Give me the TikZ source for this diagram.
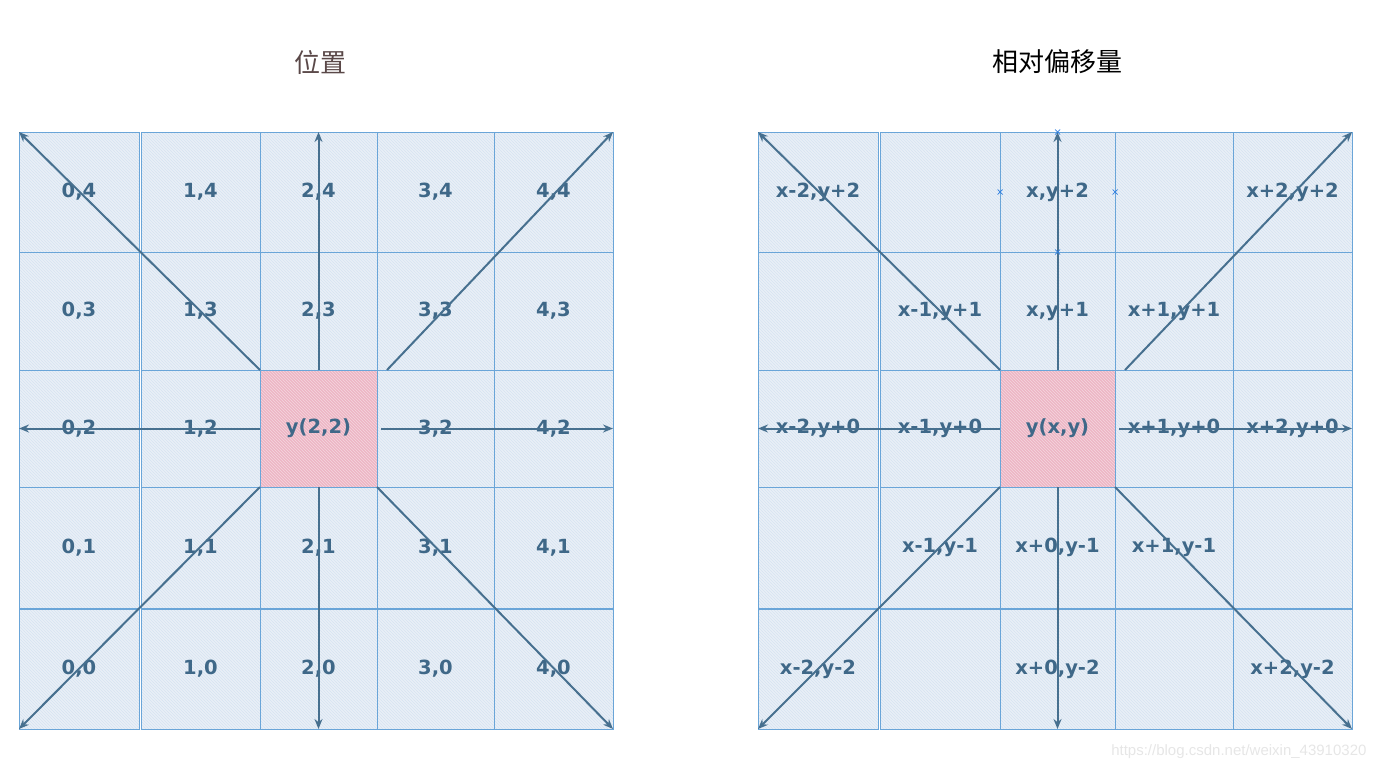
\documentclass[tikz,border=0pt]{standalone}
\usepackage{fontspec}
\setmainfont{Liberation Sans}
\newfontfamily\lblfont{DejaVu Sans}
\newfontfamily\cjk{Noto Sans CJK SC}
\usetikzlibrary{positioning,arrows.meta,patterns}
\definecolor{cellfill}{HTML}{E9EFF7}
\definecolor{cellhatch}{HTML}{D6E3F1}
\definecolor{cellline}{HTML}{6AA5D8}
\definecolor{midfill}{HTML}{EDB6C4}
\definecolor{midhatch}{HTML}{F5D6E0}
\definecolor{arrowc}{HTML}{47708F}
\definecolor{labelc}{HTML}{3F6888}
\definecolor{titlec}{HTML}{5A4848}
\definecolor{markc}{HTML}{2F7FE0}
\definecolor{wmc}{HTML}{E6E6E6}

\begin{document}
\begin{tikzpicture}[x=1pt,y=-1pt,
		cell/.style={draw=cellline,line width=1pt,preaction={fill=cellfill},pattern=north west lines,pattern color=cellhatch,
			inner sep=0pt,outer sep=0pt,text=labelc,font=\lblfont\fontsize{19.5}{23}\selectfont\bfseries},
		midcell/.style={cell,preaction={fill=midfill},pattern color=midhatch},
		lbl/.style={text=labelc,font=\lblfont\fontsize{19.5}{23}\selectfont\bfseries},
		arr/.style={draw=arrowc,line width=2pt,-{Stealth[length=10pt,width=8pt]}},
		handle/.style={draw=markc,line width=0.7pt},
		title/.style={font=\cjk\fontsize{26}{30}\selectfont}]
	\useasboundingbox (0,0) rectangle (1379,772);
	\node[title,text=titlec] (tpos) at (320,62)  {位置};
	\node[title]             (toff) at (1057,62) {相对偏移量};
	
	\foreach \c/\xa/\xb in {0/19/139,1/141/260,2/260/377,3/377/494,4/494/613}
		\foreach \r/\ya/\yb in {4/132/252,3/252/370,2/370/487,1/487/608,0/609/729}
			\node[cell,minimum width={(\xb-\xa)*1pt},minimum height={(\yb-\ya)*1pt}] (L\c\r) at ({(\xa+\xb)/2},{(\ya+\yb)/2}) {\ifnum\c\r=22\relax\else\c,\r\fi};
	\node[midcell,minimum width=117pt,minimum height=117pt] (L22) at (318.5,428.5) {y(2,2)};
	
	\foreach \c/\xa/\xb in {0/758/878,1/880/1000,2/1000/1115,3/1115/1233,4/1233/1352}
		\foreach \r/\ya/\yb in {4/132/252,3/252/370,2/370/487,1/487/608,0/609/729}
			\node[cell,minimum width={(\xb-\xa)*1pt},minimum height={(\yb-\ya)*1pt}] (R\c\r) at ({(\xa+\xb)/2},{(\ya+\yb)/2}) {};
	\node[midcell,minimum width=115pt,minimum height=117pt] (R22) at (1057.5,428.5) {y(x,y)};
	\foreach \c/\r/\t in {0/4/{x-2,y+2},2/4/{x,y+2},4/4/{x+2,y+2},
		1/3/{x-1,y+1},2/3/{x,y+1},3/3/{x+1,y+1},
		0/2/{x-2,y+0},1/2/{x-1,y+0},3/2/{x+1,y+0},4/2/{x+2,y+0},
		1/1/{x-1,y-1},2/1/{x+0,y-1},3/1/{x+1,y-1},
		0/0/{x-2,y-2},2/0/{x+0,y-2},4/0/{x+2,y-2}}
		\node[lbl] (t\c\r) at (R\c\r) {\t};
	
	\foreach \g in {L,R}{
		\draw[arr] (\g22.north west) -- (\g04.north west);
		\draw[arr] (\g22.north) -- (\g24.north);
		\draw[arr] ([xshift=10pt]\g22.north east) -- (\g44.north east);
		\draw[arr] (\g22.west) -- (\g02.west);
		\draw[arr] ([xshift=4pt]\g22.east) -- (\g42.east);
		\draw[arr] (\g22.south west) -- (\g00.south west);
		\draw[arr] (\g22.south) -- (\g20.south);
		\draw[arr] (\g22.south east) -- (\g40.south east);
	}
	\foreach \a in {north,west,east,south}
		\draw[handle] (R24.\a) +(-2.5,-2.5) -- +(2.5,2.5) +(-2.5,2.5) -- +(2.5,-2.5);
	
	\node[anchor=east,text=wmc,font=\fontsize{15}{18}\selectfont] (wm) at (1370,752) {https://blog.csdn.net/weixin\_43910320};
\end{tikzpicture}
\end{document}
